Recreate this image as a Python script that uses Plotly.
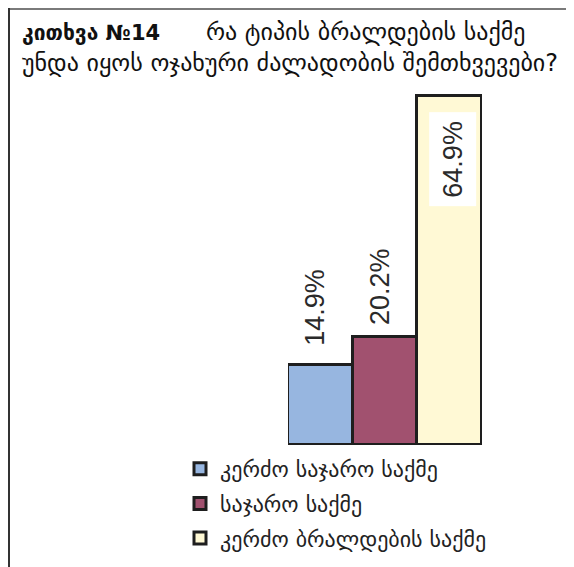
import plotly.graph_objects as go

# question 14: what type of prosecution should domestic violence cases be
categories = ["კერძო საჯარო საქმე", "საჯარო საქმე", "კერძო ბრალდების საქმე"]
values = [14.9, 20.2, 64.9]
bar_colors = ["#97B6E0", "#A1516F", "#FFF9D5"]
value_labels = ["14.9%", "20.2%", "64.9%"]

# label offsets from the bar tops (px); the last one is inside its bar
label_yshift = [16, 8, -15]
label_xshift = [-5, -5, 3]

# the page body has an 8px margin, so work in page pixels and shift
OFF = 8
W, H = 574 - OFF, 567 - OFF
PLOT_L, PLOT_R = 288 - OFF, 482 - OFF
PLOT_B, PLOT_T = 445 - OFF, 90 - OFF
PX_PER_PCT = 5.37
y_top = (PLOT_B - PLOT_T) / PX_PER_PCT

FONT = "DejaVu Sans"

fig = go.Figure()
for i, (cat, val, col) in enumerate(zip(categories, values, bar_colors)):
    fig.add_trace(
        go.Bar(
            x=[i],
            y=[val],
            width=1,
            name=cat,
            legendgroup=str(i),
            marker=dict(color=col, line=dict(color="#1E1E1E", width=3)),
            showlegend=True,
        )
    )

# value labels, rotated; the tallest one sits inside the bar on a white box
for i, (val, lab) in enumerate(zip(values, value_labels)):
    inside = val > 50
    fig.add_annotation(
        x=i,
        y=val,
        text=lab,
        textangle=-90,
        showarrow=False,
        xanchor="center",
        yanchor="top" if inside else "bottom",
        yshift=label_yshift[i],
        xshift=label_xshift[i],
        bgcolor="white" if inside else "rgba(0,0,0,0)",
        borderpad=8 if inside else 2,
        font=dict(family="Liberation Sans", size=27, color="#2A2A2A"),
    )


def px_x(p):
    return (p - OFF - PLOT_L) / (PLOT_R - PLOT_L)


def px_y(p):
    return (PLOT_B - (p - OFF)) / (PLOT_B - PLOT_T)


# frame around the chart (cut off at right and bottom)
fig.add_shape(type="line", xref="paper", yref="paper",
              x0=px_x(8), x1=px_x(580), y0=px_y(9), y1=px_y(9),
              line=dict(color="#7A7A7A", width=2))
fig.add_shape(type="line", xref="paper", yref="paper",
              x0=px_x(9), x1=px_x(9), y0=px_y(8), y1=px_y(580),
              line=dict(color="#333333", width=2))

title_text = (
    '<b><span style="font-size:21px">კითხვა №14</span></b>'
    "      რა ტიპის ბრალდების საქმე<br>"
    "უნდა იყოს ოჯახური ძალადობის შემთხვევები?"
)

fig.update_layout(
    width=W,
    height=H,
    margin=dict(l=PLOT_L, r=W - PLOT_R, t=PLOT_T, b=H - PLOT_B, autoexpand=False),
    paper_bgcolor="white",
    plot_bgcolor="white",
    barmode="overlay",
    bargap=0,
    font=dict(family=FONT, color="#222"),
    title=dict(
        text=title_text,
        x=(22 - OFF) / W,
        xanchor="left",
        xref="container",
        y=1 - 32 / H,
        yanchor="top",
        yref="container",
        font=dict(family=FONT, size=24, color="#111"),
    ),
    xaxis=dict(range=[-0.5, 2.5], visible=False, fixedrange=True),
    yaxis=dict(range=[0, y_top], visible=False, fixedrange=True),
    legend=dict(
        x=px_x(180),
        xanchor="left",
        y=px_y(448),
        yanchor="top",
        font=dict(family=FONT, size=22, color="#222"),
        tracegroupgap=3,
        itemwidth=30,
        bgcolor="rgba(0,0,0,0)",
    ),
)

fig.write_html("out.html")
